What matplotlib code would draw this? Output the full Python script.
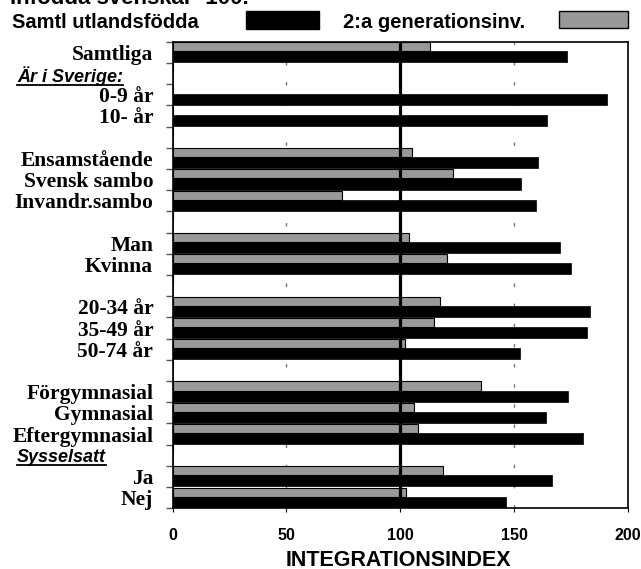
import matplotlib.pyplot as plt
import matplotlib.transforms as mtransforms
from matplotlib.patches import Rectangle
from matplotlib.lines import Line2D

# rows from top to bottom; '' = heading / spacer rows
labels = ['Samtliga', '', '0-9 år', '10- år', '',
          'Ensamstående', 'Svensk sambo', 'Invandr.sambo', '',
          'Man', 'Kvinna', '',
          '20-34 år', '35-49 år', '50-74 år', '',
          'Förgymnasial', 'Gymnasial', 'Eftergymnasial', '',
          'Ja', 'Nej']
utl = [173.2, 0, 190.8, 164.7, 0,
       160.4, 153.2, 159.7, 0,
       170.2, 175.1, 0,
       183.6, 182.1, 152.5, 0,
       173.6, 164.2, 180.2, 0,
       166.7, 146.3]
gen2 = [113.1, 0, 0, 0, 0,
        105.1, 123.3, 74.5, 0,
        104.0, 120.7, 0,
        117.5, 114.7, 102.1, 0,
        135.4, 106.1, 107.7, 0,
        118.9, 102.7]
headings = {1: 'Är i Sverige:', 19: 'Sysselsatt'}

W, H = 641, 569
fig = plt.figure(figsize=(W / 100, H / 100), dpi=100)
ax = fig.add_axes([172.7 / W, 1 - 508.3 / H, 455 / W, 466.6 / H])

n = len(labels)
pos = list(range(n))
GRAY = '#999999'

ax.barh([p - 0.48 for p in pos], gen2, height=0.43, align='edge',
        color=GRAY, edgecolor='black', linewidth=0.8, zorder=2)
ax.barh([p - 0.05 for p in pos], utl, height=0.52, align='edge',
        color='black', edgecolor='black', linewidth=0.5, zorder=2)

ax.axvline(100, color='black', lw=2.3, zorder=4)
for g in (50, 150):
    ax.axvline(g, color='#777777', lw=1, dashes=(2.5, 12), zorder=1)

ax.set_ylim(n - 0.5, -0.5)
ax.set_xlim(0, 200)

ax.set_yticks(pos)
ax.set_yticklabels(labels, family='Liberation Serif', fontweight='bold',
                   fontsize=15.5)
ax.set_yticks([p + 0.5 for p in range(-1, n)], minor=True)
ax.tick_params(axis='y', which='major', length=0, pad=14)
ax.tick_params(axis='y', which='minor', length=5, width=1, color='#555555')

ax.set_xticks([0, 50, 100, 150, 200])
ax.set_xticklabels(['0', '50', '100', '150', '200'], fontweight='bold',
                   fontsize=11.5, family='Liberation Sans')
ax.tick_params(axis='x', length=3, width=0.8, pad=11)

for s in ax.spines.values():
    s.set_linewidth(1.2)

fig.text(398 / W, 1 - 560 / H, 'INTEGRATIONSINDEX', fontweight='bold',
         fontsize=15.5, family='Liberation Sans', ha='center', va='center')

# header / legend
fig.text(10 / W, 1 - 4 / H, 'Infödda svenskar=100.', fontsize=16,
         fontweight='bold', family='Liberation Sans', va='baseline')
fig.text(12 / W, 1 - 28.3 / H, 'Samtl utlandsfödda', fontsize=14.5,
         fontweight='bold', family='Liberation Sans', va='baseline')
fig.text(343 / W, 1 - 28.3 / H, '2:a generationsinv.', fontsize=14.5,
         fontweight='bold', family='Liberation Sans', va='baseline')
fig.patches.append(Rectangle((246 / W, 1 - 29.3 / H), 73 / W, 18.6 / H,
                             transform=fig.transFigure, facecolor='black',
                             edgecolor='black'))
fig.patches.append(Rectangle((559 / W, 1 - 28 / H), 69 / W, 17 / H,
                             transform=fig.transFigure, facecolor=GRAY,
                             edgecolor='black', linewidth=1))

# section headings, underlined
htrans = mtransforms.blended_transform_factory(fig.transFigure, ax.transData)
htexts = []
for row, txt in headings.items():
    t = fig.text(17 / W, row + 0.1, txt, fontsize=13, fontweight='bold',
                 fontstyle='italic', family='Liberation Sans', va='center',
                 transform=htrans)
    htexts.append(t)

fig.canvas.draw()
r = fig.canvas.get_renderer()
for t in htexts:
    bb = t.get_window_extent(r)
    y = bb.y0 + 1
    fig.add_artist(Line2D([bb.x0 / W, bb.x1 / W], [y / H, y / H],
                          transform=fig.transFigure, color='black', lw=1.3))

fig.savefig('out.png', dpi=100)
